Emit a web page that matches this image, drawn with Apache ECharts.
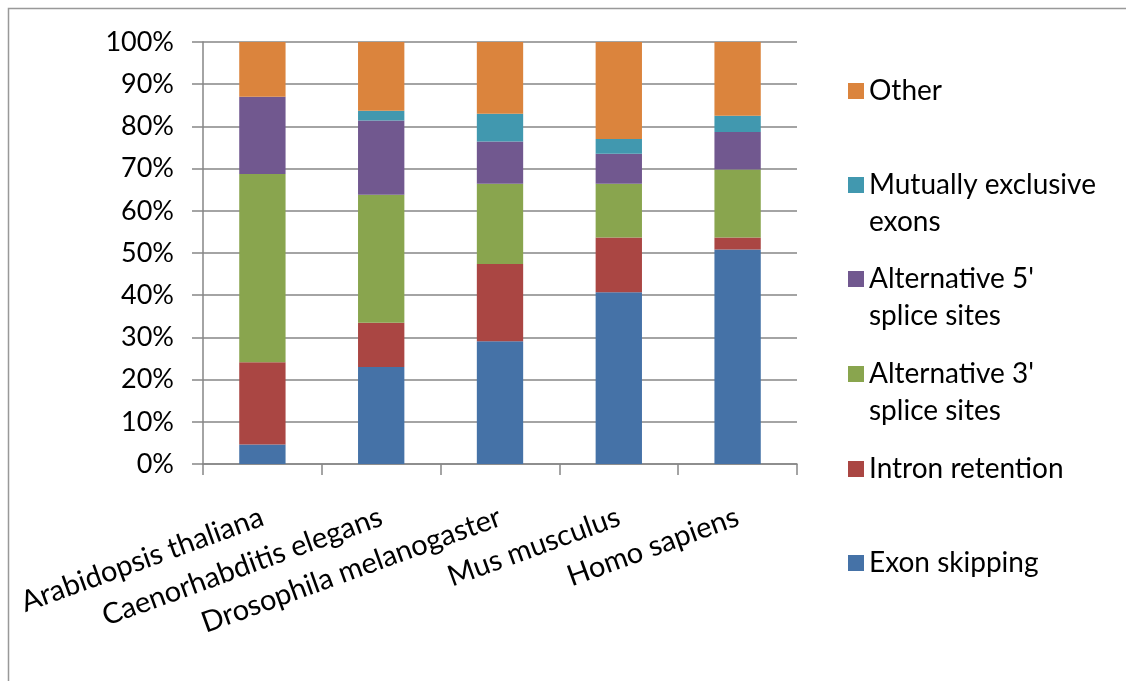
<!DOCTYPE html>
<html>
<head>
<meta charset="utf-8">
<script src="https://cdn.jsdelivr.net/npm/echarts@6/dist/echarts.min.js"></script>
<style>html,body{margin:0;padding:0;background:#fff;}#chart{width:1126px;height:681px;}</style>
</head>
<body>
<div id="chart"></div>
<script>
var categories = ['Arabidopsis thaliana', 'Caenorhabditis elegans', 'Drosophila melanogaster', 'Mus musculus', 'Homo sapiens'];
var exonSkipping = [4.6, 23.0, 29.1, 40.7, 50.8];
var intronRetention = [19.5, 10.5, 18.3, 13.0, 2.9];
var alt3 = [44.6, 30.3, 19.0, 12.7, 16.1];
var alt5 = [18.3, 17.6, 10.0, 7.1, 8.9];
var mutuallyExclusive = [0, 2.3, 6.6, 3.5, 3.8];
var other = [13.0, 16.3, 17.0, 23.0, 17.5];
var yTickValues = [0, 10, 20, 30, 40, 50, 60, 70, 80, 90, 100];

var FONT = 'Lato';
var GRAY = '#868686';

var seriesDefs = [
  {name: 'Exon skipping', data: exonSkipping, color: '#4572A7'},
  {name: 'Intron retention', data: intronRetention, color: '#AA4643'},
  {name: "Alternative 3'\nsplice sites", data: alt3, color: '#89A54E'},
  {name: "Alternative 5'\nsplice sites", data: alt5, color: '#71588F'},
  {name: 'Mutually exclusive\nexons', data: mutuallyExclusive, color: '#4198AF'},
  {name: 'Other', data: other, color: '#DB843D'}
];

var legendCentres = {'Other': 91, 'Mutually exclusive\nexons': 185, "Alternative 5'\nsplice sites": 279, "Alternative 3'\nsplice sites": 374, 'Intron retention': 469, 'Exon skipping': 563};

var legends = seriesDefs.map(function (s) {
  var twoLine = s.name.indexOf('\n') >= 0;
  var c = legendCentres[s.name];
  return {
    data: [s.name],
    orient: 'vertical',
    left: 848,
    top: twoLine ? c - 55.5 : c - 18.5,
    padding: 0,
    itemGap: 0,
    itemWidth: 16,
    itemHeight: 16,
    icon: 'rect',
    selectedMode: false,
    formatter: twoLine ? function (name) { return ' \n' + name; } : '{name}',
    textStyle: {fontFamily: FONT, fontSize: 28, color: '#000', lineHeight: 37}
  };
});

var chart = echarts.init(document.getElementById('chart'));
chart.setOption({
  backgroundColor: '#fff',
  animation: false,
  graphic: [{
    type: 'rect', silent: true,
    shape: {x: 8.5, y: 8.5, width: 1300, height: 900},
    style: {fill: 'none', stroke: '#999', lineWidth: 1.5}
  }],
  legend: legends,
  grid: {left: 203, top: 42, right: 329, bottom: 217},
  xAxis: {
    type: 'category',
    data: categories,
    axisLine: {lineStyle: {color: GRAY, width: 1.5}},
    axisTick: {show: true, length: 11, lineStyle: {color: GRAY, width: 1.5}},
    axisLabel: {rotate: 20, interval: 0, margin: 52, fontFamily: FONT, fontSize: 29, color: '#000'}
  },
  yAxis: {
    type: 'value',
    min: yTickValues[0],
    max: yTickValues[yTickValues.length - 1],
    interval: yTickValues[1] - yTickValues[0],
    axisLine: {show: true, lineStyle: {color: GRAY, width: 1.5}},
    axisTick: {show: true, length: 11, lineStyle: {color: GRAY, width: 1.5}},
    splitLine: {show: true, lineStyle: {color: GRAY, width: 1.5}},
    axisLabel: {formatter: '{value}%', margin: 29, fontFamily: FONT, fontSize: 27, color: '#000'}
  },
  series: seriesDefs.map(function (s) {
    return {
      name: s.name, type: 'bar', stack: 'total', data: s.data,
      barWidth: '39%',
      itemStyle: {color: s.color},
      emphasis: {disabled: true}
    };
  })
});
</script>
</body>
</html>
